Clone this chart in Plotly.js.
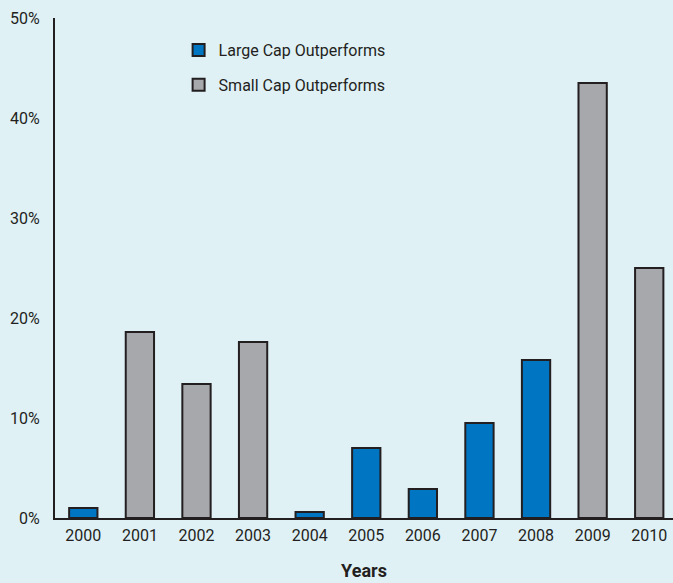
<!DOCTYPE html>
<html><head><meta charset="utf-8">
<script src="https://cdn.plot.ly/plotly-3.0.1.min.js"></script>
<style>html,body{margin:0;padding:0;background:#e0f1f6;}</style>
</head><body><div id="chart" style="width:673px;height:583px;"></div>
<script>
const years = ["2000","2001","2002","2003","2004","2005","2006","2007","2008","2009","2010"];
const returnsPct = [1.0, 18.6, 13.4, 17.6, 0.6, 7.0, 2.9, 9.5, 15.8, 43.5, 25.0];
const leader = ["Large","Small","Small","Small","Large","Large","Large","Large","Large","Small","Small"];
const yTicks = [0, 10, 20, 30, 40, 50];
const yTickText = ["0%","10%","20%","30%","40%","50%"];

const largeVals = returnsPct.map((v,i)=> leader[i]==="Large" ? v : null);
const smallVals = returnsPct.map((v,i)=> leader[i]==="Small" ? v : null);
const xIdx = years.map((_,i)=>i);

const fontFam = "Roboto, 'Open Sans', sans-serif";
const traces = [
  {type:"bar", name:"Large Cap Outperforms", legendgroup:"large", x:xIdx, y:largeVals, width:0.5,
   marker:{color:"#0076c3", line:{color:"#231f20", width:2}}},
  {type:"bar", name:"Small Cap Outperforms", legendgroup:"small", x:xIdx, y:smallVals, width:0.5,
   marker:{color:"#a7a8ab", line:{color:"#231f20", width:2}}}
];
const layout = {
  width:673, height:583,
  paper_bgcolor:"#e0f1f6", plot_bgcolor:"#e0f1f6",
  margin:{l:55, r:0, t:18, b:65},
  barmode:"overlay",
  showlegend:true,
  legend:{x:0.2, y:0.97, xanchor:"left", yanchor:"top", bgcolor:"rgba(0,0,0,0)",
          font:{family:fontFam, size:16, color:"#231f20"}, tracegroupgap:11, traceorder:"grouped"},
  font:{family:fontFam, color:"#231f20"},
  xaxis:{range:[-0.5, 10.42], tickvals:xIdx, ticktext:years, showgrid:false, zeroline:false,
         showline:true, linecolor:"#231f20", linewidth:2, ticks:"outside", ticklen:2, tickcolor:"rgba(0,0,0,0)",
         tickfont:{size:16, color:"#231f20"}, fixedrange:true,
         title:{text:"<b>Years</b>", font:{size:18, color:"#231f20"}, standoff:20}},
  yaxis:{range:[0,50], tickvals:yTicks, ticktext:yTickText, showgrid:false, zeroline:false,
         showline:true, linecolor:"#231f20", linewidth:2, ticks:"outside", ticklen:10, tickcolor:"rgba(0,0,0,0)",
         tickfont:{size:16, color:"#231f20"}}
};
Plotly.newPlot("chart", traces, layout, {displayModeBar:false, staticPlot:true});
</script></body></html>
